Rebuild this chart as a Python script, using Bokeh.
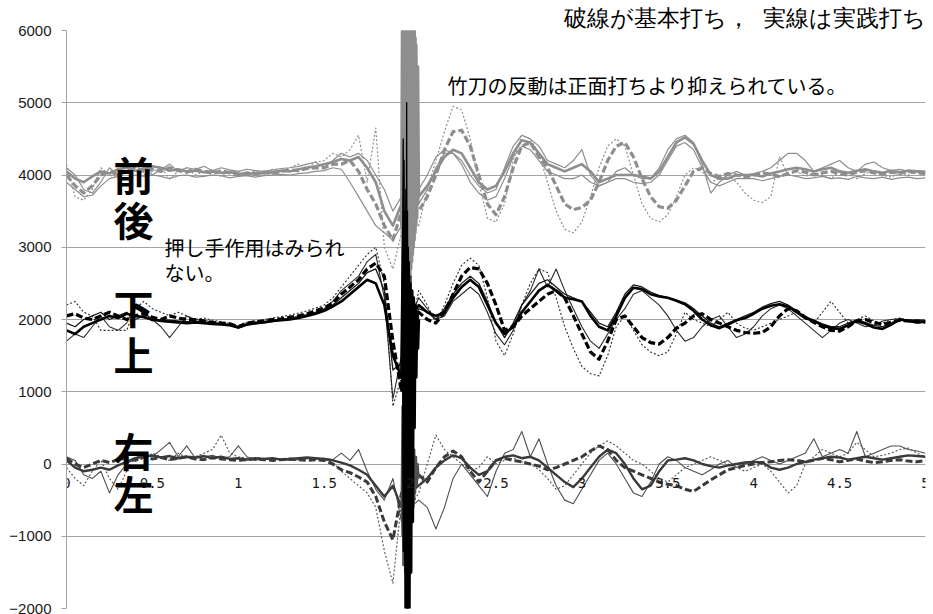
from bokeh.plotting import figure
from bokeh.models import Range1d, Label, FixedTicker
from bokeh.core.properties import value
from bokeh.embed import file_html
from bokeh.resources import INLINE

# ---------------- data ----------------
t = [round(i * 0.05, 2) for i in range(101)]
t_spike = [1.950, 1.955, 1.960, 1.965, 1.970, 1.975, 1.980, 1.985, 1.990, 1.995, 2.000,
           2.005, 2.010, 2.015, 2.020, 2.025, 2.030, 2.035, 2.040, 2.045, 2.050]

y_ticks = [-2000, -1000, 0, 1000, 2000, 3000, 4000, 5000, 6000]
y_labels = ["\u22122000", "\u22121000", "0", "1000", "2000", "3000", "4000", "5000", "6000"]
xt_vals = [0, 0.5, 1, 1.5, 2, 2.5, 3, 3.5, 4, 4.5, 5]
xt_labels = ["0", "0.5", "1", "1.5", "2", "2.5", "3", "3.5", "4", "4.5", "5"]

# 前後 (gray, around 4000)
fb_solid_thick = [4050, 3950, 3900, 3980, 4050, 4020, 4080, 4100, 4060, 4080,
                  4120, 4100, 4060, 4080, 4050, 4060, 4040, 4050, 4030, 4040,
                  4020, 4010, 4030, 4020, 4040, 4060, 4050, 4080, 4100, 4120,
                  4150, 4180, 4220, 4200, 4250, 4100, 3900, 3500, 3300, 3600,
                  3700, 3700, 3850, 4050, 4250, 4350, 4300, 4100, 3900, 3800,
                  3850, 4050, 4300, 4480, 4450, 4300, 4150, 4100, 4050, 4100,
                  4150, 4050, 3900, 3950, 4000, 4000, 4000, 3980, 3950, 4050,
                  4250, 4450, 4520, 4430, 4200, 4000, 3950, 3950, 4000, 4000,
                  4000, 3980, 4020, 4050, 4080, 4100, 4080, 4050, 4080, 4100,
                  4050, 4030, 4060, 4080, 4050, 4030, 4060, 4040, 4060, 4050,
                  4040]
fb_dash_thick = [4000, 3850, 3750, 3850, 4000, 4050, 4000, 4050, 4100, 4050,
                 4080, 4050, 4100, 4060, 4040, 4080, 4050, 4020, 4060, 4030,
                 4000, 4030, 4010, 4040, 4020, 4050, 4070, 4060, 4090, 4100,
                 4100, 4150, 4150, 4200, 4050, 3800, 3600, 3300, 3100, 3500,
                 3500, 3500, 3700, 4000, 4350, 4600, 4620, 4400, 4000, 3600,
                 3450, 3700, 4100, 4400, 4450, 4250, 4100, 3850, 3600, 3520,
                 3550, 3650, 3900, 4200, 4400, 4450, 4250, 3950, 3700, 3560,
                 3540, 3650, 3850, 4050, 4100, 4020, 3980, 4020, 4000, 3970,
                 4000, 4030, 4010, 3980, 4020, 4060, 4040, 4000, 4030, 4050,
                 4020, 4000, 4040, 4060, 4030, 4010, 4040, 4020, 4050, 4030,
                 4020]
fb_dot_thin = [4150, 3700, 3650, 3800, 4100, 4000, 3950, 4050, 4100, 4000,
               4050, 4100, 3950, 4050, 4100, 4000, 4050, 4080, 3980, 4050,
               4050, 4000, 4060, 4030, 4080, 4050, 4100, 4150, 4100, 4180,
               4200, 4300, 4250, 4350, 4550, 3900, 4650, 3000, 2700, 3200,
               3300, 3300, 3800, 4200, 4600, 4950, 4900, 4500, 3900, 3400,
               3350, 3600, 4200, 4550, 4500, 4300, 3900, 3500, 3250, 3200,
               3350, 3700, 4100, 4400, 4500, 4400, 4000, 3600, 3400, 3350,
               3450, 3700, 4000, 4100, 4050, 3900, 3950, 4000, 3900, 3750,
               3650, 3620, 3700, 4250, 4000, 4050, 3980, 4030, 4000, 3950,
               4050, 4000, 3950, 4020, 4060, 4000, 3970, 4030, 4000, 4050,
               4000]
fb_solid_thin = [4100, 4000, 3800, 3750, 3900, 4100, 4000, 4150, 4050, 4100,
                 4000, 4080, 4150, 4050, 4100, 4080, 4120, 4060, 4100, 4070,
                 4050, 4080, 4060, 4050, 4070, 4090, 4100, 4120, 4150, 4180,
                 4100, 4200, 4300, 4250, 4300, 4200, 4000, 3800, 3500, 3700,
                 3800, 3800, 4000, 4250, 4350, 4300, 4200, 4000, 3850, 3750,
                 3800, 4100, 4400, 4550, 4500, 4400, 4200, 4150, 4100, 4200,
                 4350, 4000, 3850, 3900, 4050, 4100, 4000, 3950, 3950, 4100,
                 4350, 4500, 4550, 4450, 4150, 3750, 3900, 4000, 4050, 4000,
                 4020, 4050, 4100, 4200, 4300, 4300, 4200, 4050, 4100, 4150,
                 4200, 4100, 4050, 4150, 4180, 4100, 4060, 4080, 4050, 4060,
                 4050]
fb_solid_thin2 = [3900, 3800, 3700, 3720, 3850, 3950, 3980, 3950, 4000, 3980,
                  4000, 3980, 3950, 3990, 4000, 3970, 3980, 4000, 3990, 3960,
                  3980, 3990, 3970, 3990, 4000, 4010, 4000, 4020, 4030, 4050,
                  4060, 4100, 4080, 3900, 3700, 3500, 3300, 3200, 3100, 3300,
                  3500, 3600, 3800, 4100, 4300, 4300, 4150, 3900, 3750, 3650,
                  3700, 3950, 4250, 4400, 4350, 4200, 4050, 4000, 3950, 3950,
                  4000, 3900, 3850, 3900, 3950, 3950, 3900, 3880, 3900, 4000,
                  4200, 4400, 4450, 4350, 4100, 3900, 3850, 3900, 3950, 3950,
                  3950, 3920, 3950, 3980, 4000, 3980, 3950, 3960, 3980, 3950,
                  3960, 3940, 3980, 3960, 3950, 3970, 3940, 3960, 3970, 3950,
                  3960]
fb_spike1 = [3300, 6500, 2800, 6800, 2600, 6900, 2500, 6800, 2700, 6900, 2600,
             6800, 2800, 6700, 3000, 6500, 3200, 5800, 3400, 5500, 3700]
fb_spike2 = [3600, 3000, 6400, 2700, 6700, 2500, 6900, 2400, 6800, 2600, 6900,
             2700, 6600, 2900, 6300, 3100, 5900, 3300, 5400, 3600, 3800]

# 下上 (black, around 2000)
ud_solid_thick = [1850, 1800, 1900, 1950, 2000, 2050, 2020, 2080, 2050, 2030,
                  2000, 1980, 1970, 1960, 1950, 1960, 1950, 1940, 1930, 1920,
                  1890, 1930, 1950, 1960, 1980, 1990, 2000, 2020, 2050, 2080,
                  2120, 2180, 2250, 2350, 2450, 2550, 2500, 2200, 1500, 1200,
                  2000, 2200, 2100, 2050, 2100, 2300, 2450, 2550, 2450, 2200,
                  1950, 1800, 1900, 2100, 2250, 2400, 2480, 2400, 2300, 2280,
                  2250, 2050, 1900, 1850, 2050, 2300, 2440, 2420, 2350, 2320,
                  2300, 2260, 2210, 2120, 2000, 1920, 1880, 1930, 1990, 2020,
                  2080, 2150, 2190, 2210, 2180, 2100, 2020, 1980, 1920, 1880,
                  1870, 1920, 1980, 1940, 1890, 1870, 1930, 2000, 1980, 1960,
                  1970]
ud_dash_thick = [2050, 2080, 2020, 2000, 2050, 2100, 2050, 2000, 2050, 2080,
                 2030, 2000, 2050, 2020, 2000, 2000, 1980, 1960, 1950, 1940,
                 1900, 1950, 1970, 1980, 2000, 2010, 2030, 2050, 2080, 2120,
                 2160, 2230, 2350, 2450, 2550, 2700, 2780, 2600, 1700, 1000,
                 1800, 2100, 2000, 1950, 2100, 2350, 2600, 2720, 2700, 2500,
                 2200, 1850, 1900, 2050, 2150, 2250, 2350, 2400, 2300, 2050,
                 1800, 1550, 1450, 1700, 2000, 2050, 1900, 1750, 1680, 1660,
                 1750, 1880, 1950, 2050, 2080, 2000, 1950, 1900, 1850, 1820,
                 1810, 1820, 1900, 2050, 2150, 2120, 2030, 1960, 1900, 1850,
                 1840, 1900, 1980, 2000, 1960, 1930, 1960, 1990, 1980, 1970,
                 1960]
ud_dot_thin = [2200, 2250, 2100, 2050, 1850, 1850, 1850, 1850, 2150, 2250,
               2150, 2100, 2050, 2100, 2050, 2000, 2020, 1990, 1970, 1950,
               1900, 1960, 1980, 2000, 2020, 2040, 2060, 2090, 2120, 2160,
               2200, 2300, 2450, 2600, 2750, 2900, 3000, 2500, 800, 1200,
               1800, 2400, 2200, 1950, 2200, 2500, 2750, 2850, 2750, 2300,
               1700, 1500, 1800, 2200, 2500, 2700, 2650, 2300, 1900, 1600,
               1350, 1250, 1220, 1500, 1900, 2050, 1850, 1650, 1550, 1500,
               1550, 1800, 2100, 2000, 1950, 1900, 2000, 2100, 1950, 1880,
               1850, 1900, 1950, 2000, 2050, 2100, 2050, 1950, 2100, 2250,
               2100, 1950, 2000, 2050, 1980, 1950, 2000, 2020, 1990, 2000,
               1990]
ud_solid_thin = [1700, 1800, 1750, 1900, 2050, 1900, 1850, 1950, 2200, 2100,
                 2000, 1900, 1750, 1900, 2050, 2000, 1990, 1960, 1940, 1920,
                 1880, 1920, 1940, 1960, 1970, 1990, 2010, 2040, 2070, 2100,
                 2150, 2250, 2400, 2500, 2600, 2800, 2900, 2300, 900, 1500,
                 2000, 2300, 2150, 2000, 2050, 2250, 2350, 2450, 2350, 2100,
                 1800, 1650, 1850, 2200, 2400, 2700, 2450, 2700, 2400, 2150,
                 1900, 1700, 1600, 1800, 2000, 2150, 2350, 2400, 2300, 2200,
                 2050, 1850, 1700, 1750, 1900, 2000, 2050, 1900, 1750, 1800,
                 1900, 2050, 2150, 2200, 2150, 2050, 1950, 1850, 1750, 1850,
                 1950, 2000, 1950, 1900, 1920, 1980, 2000, 2010, 1990, 2000,
                 1990]
ud_solid_thin2 = [1950, 1900, 2000, 2050, 2100, 2000, 2050, 2100, 2000, 2050,
                  1980, 2000, 1990, 1980, 1970, 1980, 1960, 1950, 1950, 1930,
                  1900, 1940, 1960, 1970, 1990, 2000, 2020, 2040, 2060, 2100,
                  2140, 2200, 2300, 2400, 2500, 2650, 2700, 2400, 1300, 1400,
                  1900, 2150, 2100, 2000, 2150, 2350, 2500, 2600, 2500, 2250,
                  1950, 1750, 1950, 2200, 2350, 2500, 2550, 2450, 2350, 2300,
                  2250, 2100, 1950, 1900, 2100, 2350, 2480, 2450, 2380, 2330,
                  2300, 2270, 2230, 2150, 2050, 1950, 1900, 1950, 2000, 2050,
                  2100, 2170, 2220, 2250, 2200, 2120, 2040, 1990, 1940, 1900,
                  1900, 1950, 1990, 1960, 1920, 1900, 1950, 2010, 1990, 1980,
                  1980]
ud_spike_thick = [1200, 2200, 3000, -1200, 2800, -2200, 2900, -2200, 2700, -2200, 2500,
                  -1500, 2400, -800, 2300, 500, 2200, 1200, 2100, 1600, 2000]
ud_spike_thin1 = [1500, 2500, 4500, 500, 3500, -1800, 5000, -2200, 3000, -1500, 2500,
                  0, 2400, 1000, 2300, 1500, 2200, 1800, 2100, 2000, 2050]
ud_spike_thin2 = [1000, 3000, -500, 4200, -1500, 3800, -2200, 3500, -2000, 2800, -1000,
                  2600, 200, 2400, 1200, 2300, 1700, 2200, 1900, 2100, 2000]

# 右左 (dark gray, around 0)
rl_solid_thick = [50, -50, -100, -80, -50, -80, -20, 30, 80, 100,
                  120, 90, 110, 80, 100, 90, 110, 80, 100, 70,
                  80, 60, 80, 70, 80, 60, 70, 80, 90, 80,
                  70, 50, 20, -20, -80, -150, -300, -450, -300, -600,
                  -400, -300, -200, -50, 50, 120, 80, -50, -150, -100,
                  50, 100, 120, 80, 100, 50, -50, -150, -250, -320,
                  -200, -50, 100, 200, 150, 0, -200, -350, -300, -100,
                  50, 60, 80, 50, 0, -30, -50, -20, 0, 20,
                  30, 20, -50, -80, -50, 0, 30, 60, 80, 100,
                  90, 60, 80, 100, 80, 60, 80, 100, 120, 110,
                  100]
rl_dash_thick = [80, 0, -50, 0, 50, 20, 60, 80, 50, 100,
                 70, 90, 60, 80, 100, 70, 60, 90, 70, 60,
                 50, 60, 70, 60, 50, 60, 70, 60, 50, 60,
                 50, 0, -80, -120, -180, -250, -450, -800, -1050, -400,
                 -300, -150, -250, -50, 100, 180, 100, -100, -250, -100,
                 50, 80, 50, 30, 0, -30, -80, -50, 0, 50,
                 100, 180, 250, 200, 50, -50, -100, -150, -200, -250,
                 -280, -300, -350, -380, -300, -220, -150, -80, -50, -20,
                 0, 20, 30, 50, 60, 50, 30, 50, 80, 60,
                 30, 50, 70, 40, 20, 30, 50, 60, 40, 30,
                 50]
rl_dot_thin = [-50, -200, -300, -100, 50, -200, -350, -100, 100, 50,
               150, 100, 50, 150, 80, 100, 150, 200, 400, 150,
               100, 80, 90, 70, 80, 60, 70, 80, 70, 60,
               60, 20, -100, -200, -300, -400, -600, -1200, -1650, -500,
               -600, -400, 0, 400, 200, 100, 0, -100, -50, 100,
               0, 50, 80, 30, 0, -80, -200, -350, -300, -150,
               0, 150, 250, 320, 250, 150, 50, 0, -100, -200,
               -250, -150, -50, 0, 50, 100, 50, 0, -50, -100,
               -50, 0, -100, -250, -400, -300, 0, 100, 200, 150,
               100, 150, 300, 200, 100, 120, 150, 200, 220, 150,
               100]
rl_solid_thin = [100, 50, -150, -200, -100, -400, -150, 0, 80, 150,
                 100, 200, 300, 100, 250, 80, 100, 120, 80, 100,
                 250, 100, 50, 80, 60, 70, 50, 60, 80, 70,
                 80, 60, 150, 50, 200, -100, -350, -500, -200, -800,
                 -600, -500, -600, -900, -600, -200, 0, -150, -300, -450,
                 -100, 150, 200, 450, 100, 350, 0, -300, -500, -550,
                 -350, -150, 50, 150, 0, -200, -400, -450, -250, 0,
                 100, 50, -50, -100, -150, -80, 0, 50, -50, 0,
                 50, 100, 50, 0, 50, 100, 150, 350, 100, 150,
                 200, 150, 450, 100, 150, 200, 250, 250, 200, 180,
                 150]
rl_spike1 = [-600, 800, -1400, 1200, -1300, 1000, -1500, 900, -1200, 700, -1000,
             500, -800, 300, -600, 200, -400, 100, -300, 0, -200]
rl_spike2 = [-400, -1000, 600, -1200, 900, -1400, 1100, -1300, 800, -1100, 600,
             -900, 400, -700, 200, -500, 100, -300, 0, -200, -150]

# ---------------- figure ----------------
JP = "Noto Sans CJK JP"
GRAY = "#8e8e8e"
DARK = "#505050"
BLACK = "#000000"

p = figure(width=933, height=614, output_backend="svg", toolbar_location=None,
           x_range=Range1d(0, 5), y_range=Range1d(-2000, 6000),
           x_axis_location=None, min_border_left=66, min_border_right=8,
           min_border_top=30, min_border_bottom=6,
           title="破線が基本打ち，\u00a0\u00a0実線は実践打ち")
p.title.align = "right"
p.title.text_font = "Liberation Sans"   # compact metrics; CJK glyphs fall back
p.title.text_font_size = "23px"
p.title.text_font_style = "normal"
p.title.text_color = "#000000"
p.title.standoff = 0
p.title.offset = 0
p.outline_line_color = None
p.background_fill_color = "white"
p.border_fill_color = "white"

for g in p.grid:
    if g.dimension == 0:
        g.visible = False
    else:
        g.ticker = FixedTicker(ticks=y_ticks)
        g.grid_line_color = "#a3a3a3"
        g.grid_line_width = 1

ax = p.yaxis[0]
ax.ticker = FixedTicker(ticks=y_ticks)
ax.major_label_overrides = {v: s for v, s in zip(y_ticks, y_labels)}
ax.axis_line_color = "#a3a3a3"
ax.major_tick_line_color = "#a3a3a3"
ax.major_tick_out = 5
ax.major_tick_in = 0
ax.minor_tick_line_color = None
ax.major_label_text_font = "Liberation Sans"
ax.major_label_text_font_size = "15px"
ax.major_label_text_color = "#1a1a1a"
ax.major_label_standoff = 10

def draw(xs, ys, color, width, dash="solid", alpha=1.0):
    assert len(xs) == len(ys), (len(xs), len(ys))
    p.line(xs, ys, line_color=color, line_width=width, line_dash=dash,
           line_alpha=alpha, line_join="round")

# 前後
draw(t, fb_solid_thin2, GRAY, 1.2)
draw(t, fb_solid_thin, GRAY, 1.2)
draw(t, fb_dot_thin, GRAY, 1.2, "2 2")
draw(t, fb_solid_thick, GRAY, 2.6)
draw(t, fb_dash_thick, GRAY, 3.2, "7 3")
draw(t_spike, fb_spike1, GRAY, 3.0)
draw(t_spike, fb_spike2, GRAY, 3.0)

# 右左
draw(t, rl_solid_thin, DARK, 1.1)
draw(t, rl_dot_thin, DARK, 1.1, "2 2")
draw(t, rl_solid_thick, "#3a3a3a", 2.4)
draw(t, rl_dash_thick, "#3a3a3a", 3.0, "7 3")
draw(t_spike, rl_spike1, DARK, 2.0)
draw(t_spike, rl_spike2, DARK, 2.0)

# 下上
draw(t, ud_solid_thin, "#2a2a2a", 1.1)
draw(t, ud_dot_thin, "#2a2a2a", 1.1, "2 2")
draw(t, ud_solid_thin2, "#1a1a1a", 1.3)
draw(t, ud_solid_thick, BLACK, 2.6)
draw(t, ud_dash_thick, BLACK, 3.2, "7 3")
draw(t_spike, ud_spike_thick, BLACK, 3.0)
draw(t_spike, ud_spike_thin1, BLACK, 1.3)
draw(t_spike, ud_spike_thin2, BLACK, 1.3)

# x tick labels at the y = 0 crossing
p.text(x=xt_vals, y=[0] * len(xt_vals), text=xt_labels,
       text_font=value("DejaVu Sans Mono"), text_font_size="14px",
       text_align="center", text_baseline="middle", y_offset=19,
       text_color="#1a1a1a")

def lab(x, y, s, size, bold=False, align="left"):
    p.add_layout(Label(x=x, y=y, text=s, text_font=JP, text_font_size=size,
                       text_font_style="bold" if bold else "normal",
                       text_align=align, text_baseline="middle",
                       text_color="#000000"))

lab(2.218, 5232, "竹刀の反動は正面打ちより抑えられている。", "20px")
lab(0.57, 3003, "押し手作用はみられ", "20px")
lab(0.57, 2657, "ない。", "20px")
for ch, yy in [("前", 4014), ("後", 3391), ("下", 2173), ("上", 1522), ("右", 194), ("左", -401)]:
    lab(0.39, yy, ch, "40px", bold=True, align="center")

open("out.html", "w").write(file_html(p, INLINE))
